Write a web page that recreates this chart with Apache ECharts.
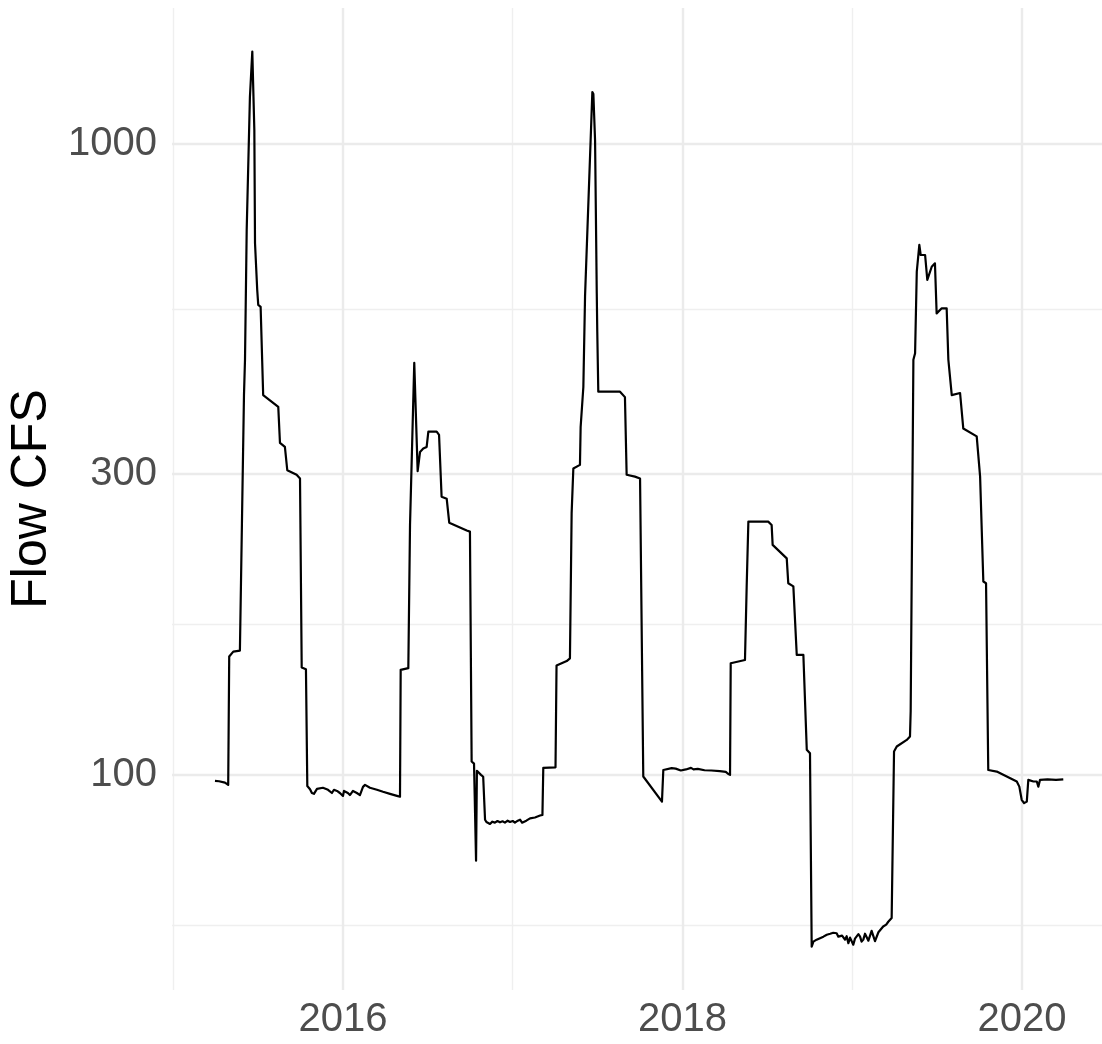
<!DOCTYPE html>
<html><head><meta charset="utf-8">
<script src="https://cdn.jsdelivr.net/npm/echarts@6/dist/echarts.min.js"></script>
<style>html,body{margin:0;padding:0;background:#fff}#c{width:1102px;height:1044px}</style>
</head><body><div id="c"></div>
<script>
// Decimal year of each observation
const dateYear = [
  2015.246,2015.252,2015.270,2015.305,2015.324,2015.330,2015.354,2015.393,2015.405,2015.417,
  2015.423,2015.433,2015.452,2015.466,2015.472,2015.478,2015.482,2015.495,2015.501,2015.515,
  2015.530,2015.541,2015.619,2015.629,2015.658,2015.672,2015.727,2015.747,2015.757,2015.782,
  2015.790,
  2015.794,2015.806,2015.817,2015.829,2015.847,2015.882,2015.912,2015.935,2015.947,2015.965,
  2015.982,2016.000,2016.006,2016.029,2016.041,2016.059,2016.082,2016.100,2016.118,2016.130,
  2016.159,2016.200,2016.236,2016.277,2016.318,2016.336,
  2016.340,2016.385,2016.395,2016.420,2016.440,2016.454,2016.473,2016.493,2016.503,2016.552,
  2016.566,2016.581,2016.611,2016.626,2016.729,2016.748,2016.758,2016.772,2016.784,2016.789,
  2016.813,2016.826,2016.837,
  2016.845,2016.855,2016.866,2016.880,2016.895,2016.910,2016.925,2016.940,2016.954,2016.970,
  2016.984,2017.000,2017.013,2017.030,2017.043,2017.055,2017.066,2017.080,2017.102,2017.131,
  2017.161,2017.175,
  2017.180,2017.252,2017.258,2017.318,2017.337,2017.347,2017.357,2017.396,2017.400,2017.416,
  2017.420,2017.426,2017.469,2017.475,2017.485,2017.495,2017.498,2017.504,2017.632,2017.661,
  2017.671,2017.720,2017.750,2017.769,2017.879,2017.887,
  2017.936,2017.960,2017.990,2018.020,2018.050,2018.065,2018.090,2018.130,2018.170,2018.220,
  2018.255,2018.268,2018.280,
  2018.284,2018.368,2018.378,2018.388,2018.505,2018.525,2018.531,2018.614,2018.623,2018.653,
  2018.673,2018.712,2018.732,2018.751,2018.761,
  2018.771,2018.790,2018.810,2018.830,2018.850,2018.870,2018.888,2018.908,2018.918,2018.928,
  2018.940,2018.957,2018.967,2018.977,2018.987,2018.997,2019.006,2019.016,2019.026,2019.036,
  2019.046,2019.055,2019.065,2019.075,2019.085,2019.095,2019.104,2019.114,2019.124,2019.134,
  2019.144,2019.154,2019.163,2019.182,2019.200,2019.212,2019.232,
  2019.240,2019.246,2019.262,2019.321,2019.340,2019.344,2019.360,2019.370,2019.380,2019.395,
  2019.403,2019.429,2019.442,2019.468,2019.487,2019.497,2019.527,2019.556,2019.566,2019.586,
  2019.635,2019.654,2019.733,2019.753,2019.772,2019.788,2019.801,
  2019.851,2019.969,2019.984,2019.998,2020.012,2020.028,2020.037,2020.067,2020.087,2020.096,
  2020.106,2020.150,2020.200,2020.243
];
// Flow in cubic feet per second
const flowCfs = [
  97.8,98.1,97.7,97.2,96.4,154,156.8,157.4,251,400,
  455,731,1188,1401,1393,1052,696,587,556,552,
  400,398,383,336,331,304,299,295,148,147,
  96,
  95.7,94.9,93.6,93.3,95.0,95.4,94.7,93.6,94.7,94.3,
  93.6,92.6,94.3,93.6,92.9,94.3,93.6,92.9,95.7,96.4,
  95.4,94.7,94.0,93.3,92.6,92.3,
  146.7,147.6,249,450,303,325,329,331,350,350,
  346,276,274,251,244,243,105,104.2,73.1,101.5,
  100.0,99.3,84.9,
  84.2,84.6,83.6,84.3,84.0,84.5,84.1,84.4,84.0,84.6,
  84.2,84.5,84.0,84.6,84.9,84.0,83.7,84.6,85.3,85.6,
  86.2,86.4,
  102.6,102.8,149,151.5,153,260,306,310,356,412,
  415,574,1209,1200,1014,580,504,405,405,397,
  299,297,295,99.4,90.7,101.8,
  102.5,102.3,101.6,102.0,102.6,102.0,102.2,101.7,101.6,101.4,
  101.1,100.4,100.0,
  150.3,152.1,198.8,252,252,249,231.5,220.4,201.3,199,
  154.9,154.9,109.6,108.2,53.4,
  54.4,54.8,55.1,55.4,55.8,56.0,56.2,56.1,55.4,55.1,
  55.6,54.8,55.5,54.1,55.2,54.9,53.8,55.0,54.8,55.9,
  55.4,54.4,54.8,56.0,56.4,54.6,54.8,56.6,56.4,54.5,
  54.8,56.3,56.4,57.5,57.9,58.5,59.3,
  59.0,108.9,110.9,113.6,115,126,455,466,628,692,
  667,667,609,639,647,539,549,549,455,400,
  403,354,344,297,202.5,201.3,101.8,
  101.2,97.6,95.8,91.3,90.2,90.7,98.2,97.6,97.6,95.8,
  98.2,98.4,98.2,98.4
];
const xMajorTicks = [2016, 2018, 2020];
const xMinorTicks = [2015, 2017, 2019];
const yMajorTicks = [100, 300, 1000];
const yMinorTicks = [57.74, 173.2, 547.7];
const yTitle = 'Flow CFS';

const data = dateYear.map((t, i) => [t, flowCfs[i]]);
const chart = echarts.init(document.getElementById('c'), null, {renderer: 'canvas'});
const FONT = '"Liberation Sans", Arial, sans-serif';
const majorLine = {show: true, lineStyle: {color: '#EBEBEB', width: 2.4}};
const minorLine = {show: true, lineStyle: {color: '#EFEFEF', width: 1.4}};
const xMin = 2014.993, xMax = 2020.471, yMin = 45.6, yMax = 1643;

chart.setOption({
  animation: false,
  backgroundColor: '#fff',
  grid: {left: 172, right: 0, top: 8, bottom: 54, containLabel: false, outerBoundsMode: 'none'},
  xAxis: [
    {type: 'value', min: xMin, max: xMax, position: 'bottom',
     axisLine: {show: false}, axisTick: {show: false, customValues: xMajorTicks},
     axisLabel: {customValues: xMajorTicks, formatter: v => String(Math.round(v)),
                 fontSize: 40, color: '#4D4D4D', margin: 10, fontFamily: FONT},
     splitLine: majorLine, z: 2},
    {type: 'value', min: xMin, max: xMax, position: 'bottom',
     axisLine: {show: false}, axisTick: {show: false, customValues: xMinorTicks},
     axisLabel: {show: false, customValues: xMinorTicks},
     splitLine: minorLine, z: 1}
  ],
  yAxis: [
    {type: 'log', logBase: 10, min: yMin, max: yMax, position: 'left',
     axisLine: {show: false}, axisTick: {show: false, customValues: yMajorTicks},
     axisLabel: {customValues: yMajorTicks, formatter: v => String(Math.round(v)),
                 fontSize: 40, color: '#4D4D4D', margin: 15, fontFamily: FONT},
     splitLine: majorLine,
     name: yTitle, nameLocation: 'middle', nameRotate: 90, nameGap: 108,
     nameTextStyle: {fontSize: 50, color: '#000', fontFamily: FONT}, z: 2},
    {type: 'log', logBase: 10, min: yMin, max: yMax, position: 'left',
     axisLine: {show: false}, axisTick: {show: false, customValues: yMinorTicks},
     axisLabel: {show: false, customValues: yMinorTicks},
     splitLine: minorLine, z: 1}
  ],
  series: [{
    type: 'line', data: data, xAxisIndex: 0, yAxisIndex: 0,
    showSymbol: false, symbol: 'none', z: 5,
    lineStyle: {color: '#000', width: 2.2, join: 'round'}
  }]
});
</script>
</body></html>
